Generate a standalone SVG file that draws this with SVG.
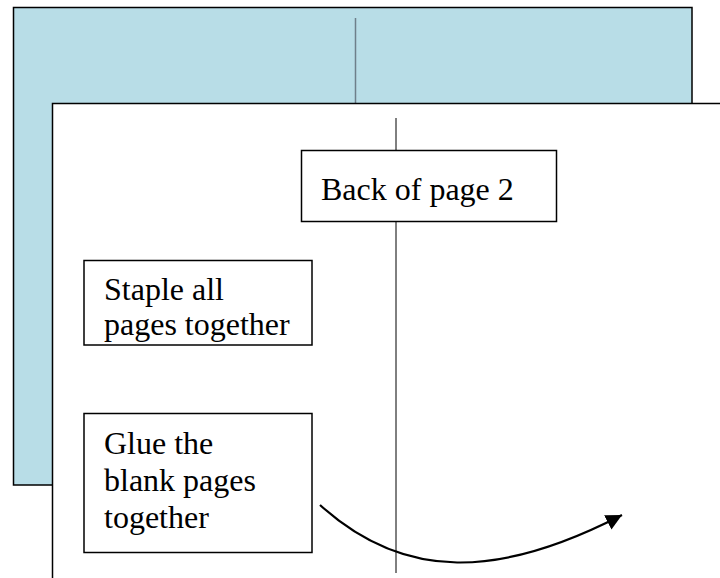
<svg xmlns="http://www.w3.org/2000/svg" width="720" height="578" viewBox="0 0 720 578">
<defs>
<style>
.box{fill:#fff;stroke:#000;stroke-width:1.5}
.lbl{font-family:"Liberation Serif","Times New Roman",serif;font-size:32px;fill:#000}
</style>
<marker id="ah" markerUnits="userSpaceOnUse" markerWidth="20" markerHeight="20" refX="16" refY="8" orient="auto">
<path d="M0,0 L16,8 L0,16 z" fill="#000"/>
</marker>
</defs>
<rect width="720" height="578" fill="#fff"/>
<g id="back-page">
<rect x="13.5" y="7.5" width="678.5" height="477.5" fill="#b8dde7" stroke="#000" stroke-width="1.5"/>
<line x1="355.5" y1="18" x2="355.5" y2="104" stroke="#6e7f8a" stroke-width="1.5"/>
</g>
<g id="front-page">
<rect x="52.5" y="103.5" width="700" height="500" fill="#fff" stroke="#000" stroke-width="1.5"/>
<line x1="396" y1="118" x2="396" y2="573" stroke="#000" stroke-width="1"/>
</g>
<g id="node-back">
<rect class="box" x="301.5" y="150.5" width="255" height="71"/>
<text class="lbl" x="321" y="200">Back of page 2</text>
</g>
<g id="node-staple">
<rect class="box" x="84" y="260.5" width="228" height="84.5"/>
<text class="lbl" x="104" y="300">Staple all</text>
<text class="lbl" x="104" y="335">pages together</text>
</g>
<g id="node-glue">
<rect class="box" x="84" y="413.5" width="228" height="139"/>
<text class="lbl" x="104" y="454">Glue the</text>
<text class="lbl" x="104" y="491">blank pages</text>
<text class="lbl" x="104" y="528">together</text>
</g>
<g id="connectors">
<path d="M320,505 C405,582 500,578 622,515" fill="none" stroke="#000" stroke-width="2.2" marker-end="url(#ah)"/>
</g>
</svg>
